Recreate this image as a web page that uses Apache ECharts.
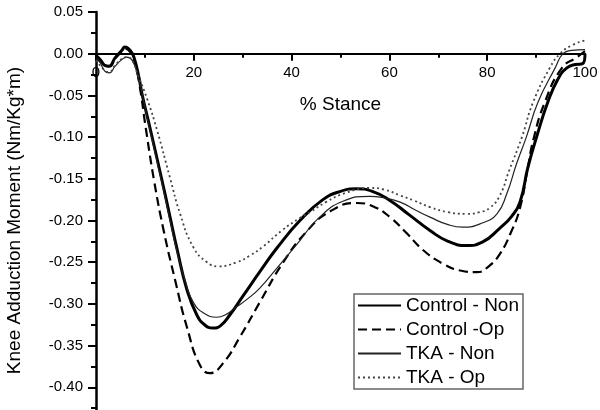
<!DOCTYPE html>
<html>
<head>
<meta charset="utf-8">
<script src="https://cdn.jsdelivr.net/npm/echarts/dist/echarts.min.js"></script>
<style>
  html, body { margin: 0; padding: 0; background: #fff; overflow: hidden; }
  /* taller than the 410px window: the y axis runs on past the bottom edge */
  #chart { width: 600px; height: 430px; }
</style>
</head>
<body>
<div id="chart"></div>
<script>
// legend names
const seriesNames = ["Control - Non", "Control -Op", "TKA - Non", "TKA - Op"];

// x axis ticks (% stance)
const xTicks = [0, 20, 40, 60, 80, 100];

// Control - Non (thick solid)
const controlNonX = [0, 1, 1.8, 2.7, 3.9, 5.3, 5.9, 7, 7.8, 8.8, 9.4, 11, 13.5, 15, 16.6, 18.6, 20.6, 22.2, 23.9, 25.5, 27.4, 30, 33.8, 37, 41.7, 46.4, 50, 53.3, 56.5, 60.1, 64, 68.3, 72, 75.8, 79, 82.6, 85, 86.7, 88.3, 90.2, 92.4, 94.5, 96.3, 98, 99.5, 100];
const controlNonY = [-0.002, -0.008, -0.014, -0.015, -0.005, 0.004, 0.008, 0.004, -0.005, -0.029, -0.048, -0.088, -0.152, -0.192, -0.235, -0.283, -0.313, -0.325, -0.329, -0.326, -0.313, -0.291, -0.259, -0.233, -0.2, -0.175, -0.165, -0.162, -0.165, -0.176, -0.193, -0.212, -0.225, -0.23, -0.226, -0.209, -0.195, -0.178, -0.137, -0.098, -0.058, -0.03, -0.017, -0.013, -0.012, 0.0];

// Control -Op (dashed)
const controlOpX = [0, 1.8, 2.7, 3.9, 5.3, 5.9, 7, 7.8, 8.8, 10.2, 11.9, 13.8, 16.2, 18.6, 21.3, 23.3, 26, 29.4, 33.5, 38.3, 43.1, 47.9, 53.3, 57, 60.1, 63.5, 67, 71, 74.5, 77.9, 80.5, 82.6, 84.8, 86.7, 88.3, 89.4, 91.8, 95.3, 98.4, 100];
const controlOpY = [-0.003, -0.014, -0.015, -0.006, 0.003, 0.006, 0.002, -0.008, -0.034, -0.09, -0.153, -0.211, -0.272, -0.328, -0.374, -0.383, -0.371, -0.34, -0.298, -0.25, -0.213, -0.189, -0.179, -0.184, -0.196, -0.215, -0.236, -0.252, -0.26, -0.262, -0.254, -0.24, -0.215, -0.185, -0.137, -0.104, -0.058, -0.017, -0.004, 0.003];

// TKA - Non (thin solid)
const tkaNonX = [0, 0.6, 1.8, 2.7, 3.9, 5.1, 6.3, 7.4, 8.5, 9.6, 11.2, 13.6, 15, 16.6, 18.4, 20, 22, 24.7, 26.5, 28.4, 31, 33.5, 37, 41.7, 45.2, 50.5, 56, 59, 62.2, 65.5, 68.3, 72, 75, 79, 82, 84, 86, 88, 90.4, 93.9, 95.5, 97.3, 100];
const tkaNonY = [-0.006, -0.008, -0.021, -0.023, -0.015, -0.008, -0.004, -0.008, -0.025, -0.053, -0.096, -0.158, -0.196, -0.238, -0.276, -0.299, -0.311, -0.316, -0.313, -0.305, -0.294, -0.281, -0.257, -0.224, -0.199, -0.177, -0.171, -0.173, -0.178, -0.188, -0.196, -0.205, -0.208, -0.203, -0.192, -0.168, -0.132, -0.1, -0.058, -0.017, 0.0, 0.004, 0.005];

// TKA - Op (dotted)
const tkaOpX = [0, 1.8, 2.7, 3.9, 5.3, 6.3, 7.4, 8.4, 10.5, 12.5, 15.1, 17.2, 19.9, 22.7, 25, 28.8, 31.5, 34.2, 38, 41.7, 43.8, 47, 51, 56, 59, 62.2, 65, 68.3, 72, 75.8, 78.5, 80.5, 82.5, 84.5, 87.1, 89.4, 92.8, 94.9, 97.3, 100];
const tkaOpY = [-0.008, -0.02, -0.022, -0.014, -0.006, -0.004, -0.008, -0.023, -0.055, -0.092, -0.148, -0.192, -0.232, -0.25, -0.255, -0.25, -0.242, -0.231, -0.212, -0.197, -0.19, -0.178, -0.167, -0.161, -0.163, -0.17, -0.176, -0.184, -0.19, -0.192, -0.19, -0.185, -0.171, -0.14, -0.1, -0.058, -0.017, 0.0, 0.01, 0.016];

const FONT = "Liberation Sans, Arial, sans-serif";

// grid: 0.05 per 41.7px -> -0.45..0.05 is 417px tall, zero line at top + 41.7
const GRID_TOP = 12;
const GRID_H = 417;
const ZERO_FROM_BOTTOM = GRID_H - 41.7;

function pairs(xs, ys) {
  return xs.map((x, i) => [x, ys[i]]);
}

function lineSeries(name, xs, ys, lineStyle) {
  return {
    name: name,
    type: "line",
    data: pairs(xs, ys),
    symbol: "none",
    smooth: 0.5,
    itemStyle: { color: lineStyle.color },
    lineStyle: lineStyle
  };
}

const chart = echarts.init(document.getElementById("chart"), null, { renderer: "canvas" });

const option = {
  backgroundColor: "#fff",
  animation: false,
  grid: {
    left: 96,
    right: 15,
    top: GRID_TOP,
    height: GRID_H,
    outerBoundsMode: "none"
  },
  legend: {
    orient: "vertical",
    left: 354,
    top: 294,
    itemWidth: 43,
    itemHeight: 14,
    itemGap: 5,
    itemTextGap: 7,
    padding: [2, 4, 2, 3],
    borderColor: "#666",
    borderWidth: 1.5,
    itemStyle: { opacity: 0 },
    textStyle: { fontFamily: FONT, fontSize: 19, color: "#000" },
    data: seriesNames
  },
  // bottom axis shifted up onto y = 0
  xAxis: {
    type: "value",
    position: "bottom",
    offset: -ZERO_FROM_BOTTOM,
    min: xTicks[0],
    max: xTicks[xTicks.length - 1],
    interval: 20,
    name: "% Stance",
    nameLocation: "middle",
    nameGap: 42,
    nameTextStyle: { fontFamily: FONT, fontSize: 19, color: "#000" },
    axisLine: { onZero: false, lineStyle: { color: "#000", width: 2 } },
    axisTick: { length: 7, lineStyle: { color: "#000", width: 2 } },
    minorTick: { show: true, splitNumber: 2, length: 4, lineStyle: { color: "#000", width: 2 } },
    axisLabel: { fontFamily: FONT, fontSize: 15, color: "#000", margin: 12 },
    splitLine: { show: false }
  },
  yAxis: {
    type: "value",
    min: -0.45,
    max: 0.05,
    interval: 0.05,
    name: "Knee Adduction Moment (Nm/Kg*m)",
    nameLocation: "middle",
    nameGap: 72,
    nameTextStyle: { fontFamily: FONT, fontSize: 19, color: "#000" },
    axisLine: { show: true, onZero: false, lineStyle: { color: "#000", width: 2.5 } },
    axisTick: { length: 8, lineStyle: { color: "#000", width: 2 } },
    minorTick: { show: true, splitNumber: 2, length: 5, lineStyle: { color: "#000", width: 2 } },
    axisLabel: {
      fontFamily: FONT,
      fontSize: 15,
      color: "#000",
      margin: 13,
      formatter: v => v.toFixed(2)
    },
    splitLine: { show: false }
  },
  series: [
    lineSeries(seriesNames[0], controlNonX, controlNonY, { color: "#000", width: 3 }),
    lineSeries(seriesNames[1], controlOpX, controlOpY, { color: "#000", width: 2.2, type: [9, 5] }),
    lineSeries(seriesNames[2], tkaNonX, tkaNonY, { color: "#222", width: 1.2 }),
    lineSeries(seriesNames[3], tkaOpX, tkaOpY, { color: "#444", width: 1.8, type: [2, 3] })
  ]
};

chart.setOption(option);
</script>
</body>
</html>
